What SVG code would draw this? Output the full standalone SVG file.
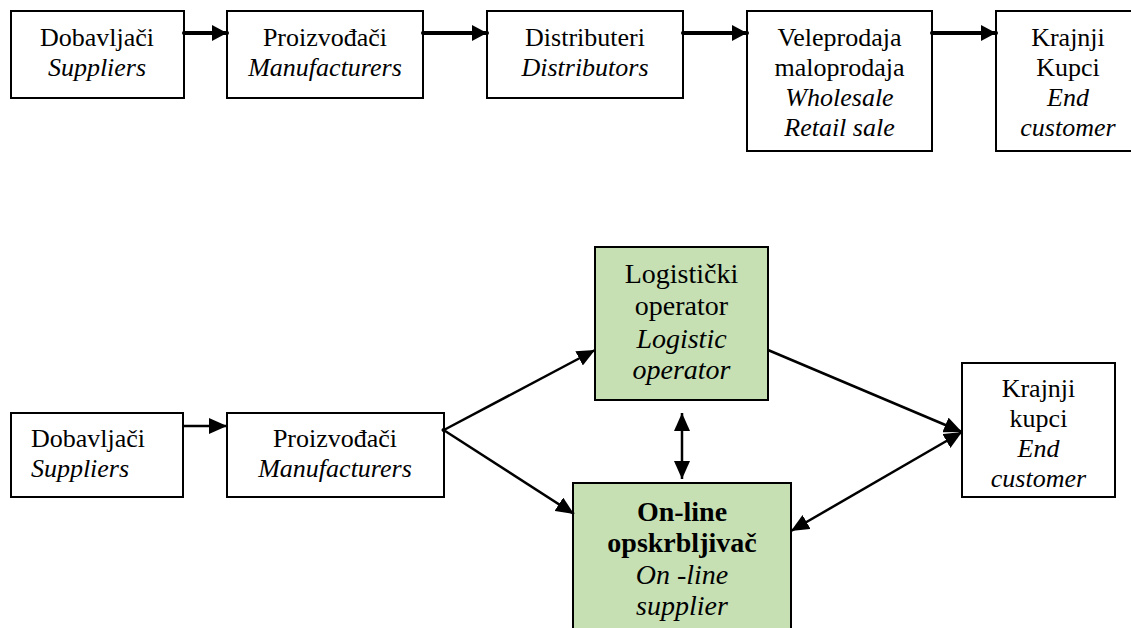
<svg xmlns="http://www.w3.org/2000/svg" width="1131" height="628" viewBox="0 0 1131 628">
<style>
.box{fill:#ffffff;stroke:#000000;stroke-width:2}
.green{fill:#c6e0b4;stroke:#000000;stroke-width:2}
text{font-size:26px;fill:#000000;text-anchor:middle}
.it{font-style:italic}
.g{font-size:28px}
.b{font-weight:bold}
.thick{stroke:#000000;stroke-width:4;fill:none;stroke-linecap:round}
.thin{stroke:#000000;stroke-width:2.5;fill:none}
</style>
<defs>
<marker id="ah1" markerUnits="userSpaceOnUse" markerWidth="15" markerHeight="16" refX="15" refY="8" orient="auto">
<path d="M0,0 L15,8 L0,16 z" fill="#000000"/>
</marker>
<marker id="ah2" markerUnits="userSpaceOnUse" markerWidth="18" markerHeight="16" refX="18" refY="8" orient="auto-start-reverse">
<path d="M0,0 L18,8 L0,16 z" fill="#000000"/>
</marker>
</defs>
<g font-family="Liberation Serif, Tinos, Times New Roman, DejaVu Serif, Noto Serif, serif">
<g id="top-suppliers">
<rect class="box" x="11" y="11" width="173" height="87"/>
<text x="97" y="46">Dobavljači</text>
<text class="it" x="97" y="76">Suppliers</text>
</g>
<g id="top-manufacturers">
<rect class="box" x="227" y="11" width="196" height="87"/>
<text x="325" y="46">Proizvođači</text>
<text class="it" x="325" y="76">Manufacturers</text>
</g>
<g id="top-distributors">
<rect class="box" x="487" y="11" width="196" height="87"/>
<text x="585" y="46">Distributeri</text>
<text class="it" x="585" y="76">Distributors</text>
</g>
<g id="top-wholesale">
<rect class="box" x="747" y="11" width="185" height="140"/>
<text x="839.5" y="46">Veleprodaja</text>
<text x="839.5" y="76">maloprodaja</text>
<text class="it" x="839.5" y="106">Wholesale</text>
<text class="it" x="839.5" y="136">Retail sale</text>
</g>
<g id="top-customer">
<rect class="box" x="996" y="11" width="145" height="140"/>
<text x="1068" y="46">Krajnji</text>
<text x="1068" y="76">Kupci</text>
<text class="it" x="1068" y="106">End</text>
<text class="it" x="1068" y="136">customer</text>
</g>

<g id="bottom-suppliers">
<rect class="box" x="11" y="413" width="172" height="84"/>
<text x="88" y="447">Dobavljači</text>
<text class="it" x="80" y="477">Suppliers</text>
</g>
<g id="bottom-manufacturers">
<rect class="box" x="227" y="413" width="217" height="84"/>
<text x="335" y="447">Proizvođači</text>
<text class="it" x="335" y="477">Manufacturers</text>
</g>
<g id="logistic-operator">
<rect class="green" x="595" y="247" width="173" height="153"/>
<text class="g" x="681.5" y="283">Logistički</text>
<text class="g" x="681.5" y="315">operator</text>
<text class="g it" x="681.5" y="348">Logistic</text>
<text class="g it" x="681.5" y="379">operator</text>
</g>
<g id="online-supplier">
<rect class="green" x="573" y="483" width="218" height="160"/>
<text class="g b" x="682" y="521">On-line</text>
<text class="g b" x="682" y="552">opskrbljivač</text>
<text class="g it" x="682" y="584">On -line</text>
<text class="g it" x="682" y="615">supplier</text>
</g>
<g id="bottom-customer">
<rect class="box" x="962" y="363" width="153" height="134"/>
<text x="1038.5" y="397">Krajnji</text>
<text x="1038.5" y="427">kupci</text>
<text class="it" x="1038.5" y="457">End</text>
<text class="it" x="1038.5" y="487">customer</text>
</g>
</g>
<g id="connectors">
<line class="thick" x1="184" y1="33" x2="227" y2="33" marker-end="url(#ah1)"/>
<line class="thick" x1="423" y1="33" x2="487" y2="33" marker-end="url(#ah1)"/>
<line class="thick" x1="683" y1="33" x2="747" y2="33" marker-end="url(#ah1)"/>
<line class="thick" x1="932" y1="33" x2="996" y2="33" marker-end="url(#ah1)"/>

<line class="thin" x1="183" y1="426" x2="227" y2="426" marker-end="url(#ah2)"/>
<line class="thin" x1="442" y1="431" x2="595" y2="350" marker-end="url(#ah2)"/>
<line class="thin" x1="442" y1="429" x2="574" y2="514" marker-end="url(#ah2)"/>
<line class="thin" x1="682" y1="413" x2="682" y2="479" marker-start="url(#ah2)" marker-end="url(#ah2)"/>
<line class="thin" x1="768" y1="350" x2="962" y2="432" marker-end="url(#ah2)"/>
<line class="thin" x1="962" y1="432" x2="791" y2="531" marker-start="url(#ah2)" marker-end="url(#ah2)"/>
</g>
</svg>
